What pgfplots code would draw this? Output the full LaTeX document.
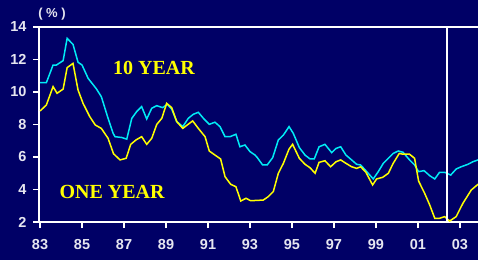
\documentclass[border=0pt]{standalone}
\usepackage{pgfplots}
\pgfplotsset{compat=1.18}
\usepackage{fontspec}
\setmainfont{Liberation Serif}
\newfontfamily\ticksf{Liberation Sans}
\definecolor{bg}{RGB}{0,0,102}
\definecolor{cy}{RGB}{0,235,245}
\definecolor{ye}{RGB}{255,255,0}
\definecolor{lab}{RGB}{230,230,240}
\begin{document}
\begin{tikzpicture}
\path[use as bounding box, fill=bg] (-39bp,-38bp) rectangle (439bp,222bp);
\begin{axis}[at={(0,0)}, anchor=south west, scale only axis, width=439bp, height=195bp,
  xmin=1982.95, xmax=2003.86, ymin=2, ymax=14,
  axis x line=box, axis y line=left,
  axis line style={-, white, line width=1.5bp},
  xtick pos=bottom, ytick pos=left,
  tick align=outside,
  tick style={white, line width=1.2bp},
  major tick length=6bp, minor tick length=6bp,
  xtick={1983,1985,...,2003},
  xticklabels={83,85,87,89,91,93,95,97,99,01,03},
  minor x tick num=7,
  ytick={2,4,...,14},
  yticklabels={2,4,6,8,10,12,14},
  ticklabel style={font=\ticksf\bfseries\fontsize{14.5bp}{14.5bp}\selectfont, text=lab},
  xticklabel style={yshift=-8bp},
  yticklabel style={xshift=-3bp},
  clip=false,
]
\addplot[cy, line width=1.5bp] coordinates {
(1983.00,10.57) (1983.30,10.57) (1983.62,11.66) (1983.78,11.66) (1984.10,11.93)
(1984.29,13.30) (1984.57,12.93) (1984.81,11.83) (1985.00,11.66) (1985.29,10.84)
(1985.68,10.20) (1985.92,9.71) (1986.24,8.38) (1986.48,7.46) (1986.57,7.25)
(1986.89,7.20) (1987.13,7.10) (1987.37,8.38) (1987.60,8.79) (1987.84,9.10)
(1988.08,8.34) (1988.32,9.00) (1988.56,9.16) (1988.84,9.04) (1989.06,9.24)
(1989.27,8.95) (1989.51,8.18) (1989.80,7.87) (1990.06,8.38) (1990.30,8.63)
(1990.54,8.75) (1990.78,8.38) (1991.06,8.01) (1991.33,8.14) (1991.57,7.87)
(1991.81,7.25) (1992.05,7.25) (1992.33,7.40) (1992.52,6.63) (1992.76,6.74)
(1993.00,6.33) (1993.24,6.12) (1993.35,5.96) (1993.60,5.51) (1993.82,5.51)
(1994.08,5.96) (1994.35,7.05) (1994.59,7.35) (1994.86,7.87) (1995.06,7.46)
(1995.35,6.58) (1995.62,6.12) (1995.86,5.88) (1996.06,5.88) (1996.29,6.63)
(1996.57,6.78) (1996.89,6.27) (1997.10,6.53) (1997.32,6.63) (1997.57,6.12)
(1997.84,5.82) (1998.08,5.55) (1998.27,5.51) (1998.56,5.10) (1998.87,4.65)
(1999.11,5.10) (1999.35,5.61) (1999.59,5.92) (1999.82,6.22) (2000.06,6.37)
(2000.29,6.29) (2000.60,5.82) (2000.84,5.51) (2001.03,5.10) (2001.29,5.16)
(2001.56,4.85) (2001.80,4.65) (2002.03,5.06) (2002.27,5.06) (2002.56,4.89)
(2002.82,5.26) (2003.06,5.40) (2003.38,5.55) (2003.62,5.71) (2003.86,5.82)
};
\addplot[ye, line width=1.5bp] coordinates {
(1983.00,8.83) (1983.30,9.20) (1983.62,10.33) (1983.81,9.92) (1984.10,10.18)
(1984.29,11.50) (1984.57,11.76) (1984.81,10.12) (1985.05,9.30) (1985.37,8.48)
(1985.63,7.97) (1985.92,7.76) (1986.24,7.15) (1986.50,6.20) (1986.81,5.82)
(1987.10,5.92) (1987.32,6.78) (1987.57,7.05) (1987.84,7.25) (1988.08,6.78)
(1988.32,7.15) (1988.56,8.01) (1988.80,8.38) (1989.03,9.30) (1989.27,9.04)
(1989.51,8.18) (1989.80,7.76) (1990.01,7.97) (1990.27,8.22) (1990.54,7.76)
(1990.86,7.25) (1991.06,6.37) (1991.33,6.12) (1991.60,5.88) (1991.81,4.79)
(1992.08,4.32) (1992.33,4.17) (1992.56,3.29) (1992.81,3.46) (1993.03,3.31)
(1993.63,3.35) (1993.87,3.56) (1994.11,3.87) (1994.35,5.00) (1994.59,5.61)
(1994.86,6.49) (1995.03,6.78) (1995.35,5.92) (1995.62,5.55) (1995.86,5.34)
(1996.10,5.00) (1996.29,5.67) (1996.57,5.77) (1996.84,5.40) (1997.10,5.71)
(1997.32,5.82) (1997.57,5.61) (1997.84,5.40) (1998.08,5.30) (1998.27,5.40)
(1998.52,5.06) (1998.84,4.28) (1999.03,4.65) (1999.32,4.75) (1999.59,5.00)
(1999.82,5.61) (2000.11,6.22) (2000.29,6.17) (2000.60,6.17) (2000.84,5.92)
(2001.03,4.52) (2001.32,3.76) (2001.56,3.05) (2001.80,2.23) (2002.03,2.23)
(2002.27,2.33) (2002.51,2.06) (2002.82,2.33) (2003.14,3.15) (2003.54,3.97)
(2003.86,4.32)
};
\addplot[white, line width=1.5bp] coordinates {(2002.38,2) (2002.38,14)};
\node[text=ye, font=\bfseries\fontsize{20bp}{20bp}\selectfont] at (axis cs:1988.43,11.48) {10 YEAR};
\node[text=ye, font=\bfseries\fontsize{20bp}{20bp}\selectfont] at (axis cs:1986.43,3.82) {ONE YEAR};
\node[text=lab, font=\ticksf\bfseries\fontsize{13bp}{13bp}\selectfont] at (axis cs:1983.57,14.8) {( \% )};
\end{axis}
\end{tikzpicture}
\end{document}
